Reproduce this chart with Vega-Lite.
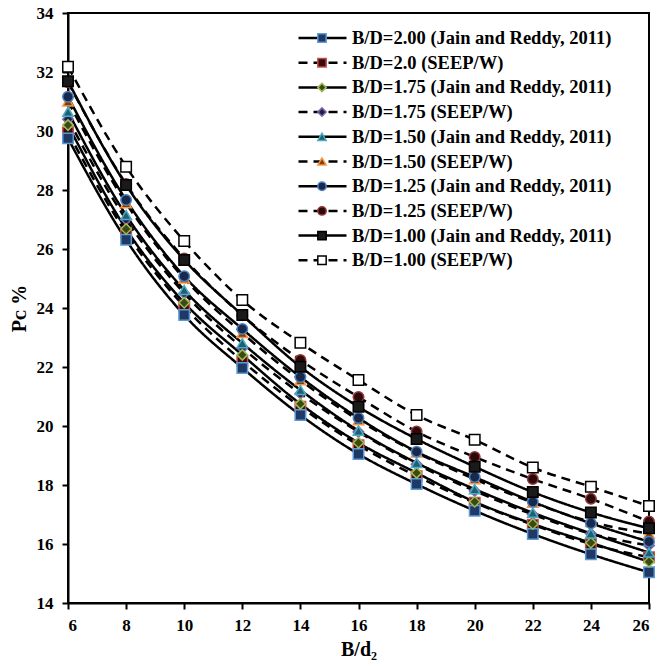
{
  "$schema": "https://vega.github.io/schema/vega-lite/v6.json",
  "width": 581,
  "height": 590,
  "autosize": {"type": "none"},
  "padding": {"left": 68, "top": 13, "right": 10, "bottom": 63},
  "background": "white",
  "config": {
    "font": "Liberation Serif",
    "view": {"stroke": "black", "strokeWidth": 2},
    "axis": {
      "grid": false,
      "domainColor": "black",
      "domainWidth": 2,
      "tickColor": "black",
      "tickWidth": 2,
      "tickSize": 6,
      "labelFont": "Liberation Serif",
      "labelFontWeight": "bold",
      "labelFontSize": 17,
      "labelColor": "black",
      "titleFont": "Liberation Serif",
      "titleFontWeight": "bold",
      "titleFontSize": 20,
      "titleColor": "black"
    }
  },
  "data": {
    "values": [
      {"series": "B/D=2.00 (Jain and Reddy, 2011)", "source": "Jain", "Bd2": 6, "Pc": 29.75},
      {"series": "B/D=2.00 (Jain and Reddy, 2011)", "source": "Jain", "Bd2": 8, "Pc": 26.31},
      {"series": "B/D=2.00 (Jain and Reddy, 2011)", "source": "Jain", "Bd2": 10, "Pc": 23.76},
      {"series": "B/D=2.00 (Jain and Reddy, 2011)", "source": "Jain", "Bd2": 12, "Pc": 21.97},
      {"series": "B/D=2.00 (Jain and Reddy, 2011)", "source": "Jain", "Bd2": 14, "Pc": 20.37},
      {"series": "B/D=2.00 (Jain and Reddy, 2011)", "source": "Jain", "Bd2": 16, "Pc": 19.05},
      {"series": "B/D=2.00 (Jain and Reddy, 2011)", "source": "Jain", "Bd2": 18, "Pc": 18.03},
      {"series": "B/D=2.00 (Jain and Reddy, 2011)", "source": "Jain", "Bd2": 20, "Pc": 17.13},
      {"series": "B/D=2.00 (Jain and Reddy, 2011)", "source": "Jain", "Bd2": 22, "Pc": 16.34},
      {"series": "B/D=2.00 (Jain and Reddy, 2011)", "source": "Jain", "Bd2": 24, "Pc": 15.65},
      {"series": "B/D=2.00 (Jain and Reddy, 2011)", "source": "Jain", "Bd2": 26, "Pc": 15.04},
      {"series": "B/D=2.0 (SEEP/W)", "source": "SEEP", "Bd2": 6, "Pc": 29.95},
      {"series": "B/D=2.0 (SEEP/W)", "source": "SEEP", "Bd2": 8, "Pc": 26.55},
      {"series": "B/D=2.0 (SEEP/W)", "source": "SEEP", "Bd2": 10, "Pc": 24.05},
      {"series": "B/D=2.0 (SEEP/W)", "source": "SEEP", "Bd2": 12, "Pc": 22.2},
      {"series": "B/D=2.0 (SEEP/W)", "source": "SEEP", "Bd2": 14, "Pc": 20.65},
      {"series": "B/D=2.0 (SEEP/W)", "source": "SEEP", "Bd2": 16, "Pc": 19.35},
      {"series": "B/D=2.0 (SEEP/W)", "source": "SEEP", "Bd2": 18, "Pc": 18.3},
      {"series": "B/D=2.0 (SEEP/W)", "source": "SEEP", "Bd2": 20, "Pc": 17.4},
      {"series": "B/D=2.0 (SEEP/W)", "source": "SEEP", "Bd2": 22, "Pc": 16.65},
      {"series": "B/D=2.0 (SEEP/W)", "source": "SEEP", "Bd2": 24, "Pc": 16.0},
      {"series": "B/D=2.0 (SEEP/W)", "source": "SEEP", "Bd2": 26, "Pc": 15.55},
      {"series": "B/D=1.75 (Jain and Reddy, 2011)", "source": "Jain", "Bd2": 6, "Pc": 30.2},
      {"series": "B/D=1.75 (Jain and Reddy, 2011)", "source": "Jain", "Bd2": 8, "Pc": 26.68},
      {"series": "B/D=1.75 (Jain and Reddy, 2011)", "source": "Jain", "Bd2": 10, "Pc": 24.18},
      {"series": "B/D=1.75 (Jain and Reddy, 2011)", "source": "Jain", "Bd2": 12, "Pc": 22.41},
      {"series": "B/D=1.75 (Jain and Reddy, 2011)", "source": "Jain", "Bd2": 14, "Pc": 20.75},
      {"series": "B/D=1.75 (Jain and Reddy, 2011)", "source": "Jain", "Bd2": 16, "Pc": 19.43},
      {"series": "B/D=1.75 (Jain and Reddy, 2011)", "source": "Jain", "Bd2": 18, "Pc": 18.41},
      {"series": "B/D=1.75 (Jain and Reddy, 2011)", "source": "Jain", "Bd2": 20, "Pc": 17.43},
      {"series": "B/D=1.75 (Jain and Reddy, 2011)", "source": "Jain", "Bd2": 22, "Pc": 16.68},
      {"series": "B/D=1.75 (Jain and Reddy, 2011)", "source": "Jain", "Bd2": 24, "Pc": 16.04},
      {"series": "B/D=1.75 (Jain and Reddy, 2011)", "source": "Jain", "Bd2": 26, "Pc": 15.4},
      {"series": "B/D=1.75 (SEEP/W)", "source": "SEEP", "Bd2": 6, "Pc": 30.4},
      {"series": "B/D=1.75 (SEEP/W)", "source": "SEEP", "Bd2": 8, "Pc": 27.0},
      {"series": "B/D=1.75 (SEEP/W)", "source": "SEEP", "Bd2": 10, "Pc": 24.5},
      {"series": "B/D=1.75 (SEEP/W)", "source": "SEEP", "Bd2": 12, "Pc": 22.65},
      {"series": "B/D=1.75 (SEEP/W)", "source": "SEEP", "Bd2": 14, "Pc": 21.1},
      {"series": "B/D=1.75 (SEEP/W)", "source": "SEEP", "Bd2": 16, "Pc": 19.8},
      {"series": "B/D=1.75 (SEEP/W)", "source": "SEEP", "Bd2": 18, "Pc": 18.7},
      {"series": "B/D=1.75 (SEEP/W)", "source": "SEEP", "Bd2": 20, "Pc": 17.8},
      {"series": "B/D=1.75 (SEEP/W)", "source": "SEEP", "Bd2": 22, "Pc": 17.0},
      {"series": "B/D=1.75 (SEEP/W)", "source": "SEEP", "Bd2": 24, "Pc": 16.35},
      {"series": "B/D=1.75 (SEEP/W)", "source": "SEEP", "Bd2": 26, "Pc": 15.95},
      {"series": "B/D=1.50 (Jain and Reddy, 2011)", "source": "Jain", "Bd2": 6, "Pc": 30.65},
      {"series": "B/D=1.50 (Jain and Reddy, 2011)", "source": "Jain", "Bd2": 8, "Pc": 27.15},
      {"series": "B/D=1.50 (Jain and Reddy, 2011)", "source": "Jain", "Bd2": 10, "Pc": 24.61},
      {"series": "B/D=1.50 (Jain and Reddy, 2011)", "source": "Jain", "Bd2": 12, "Pc": 22.81},
      {"series": "B/D=1.50 (Jain and Reddy, 2011)", "source": "Jain", "Bd2": 14, "Pc": 21.22},
      {"series": "B/D=1.50 (Jain and Reddy, 2011)", "source": "Jain", "Bd2": 16, "Pc": 19.84},
      {"series": "B/D=1.50 (Jain and Reddy, 2011)", "source": "Jain", "Bd2": 18, "Pc": 18.75},
      {"series": "B/D=1.50 (Jain and Reddy, 2011)", "source": "Jain", "Bd2": 20, "Pc": 17.86},
      {"series": "B/D=1.50 (Jain and Reddy, 2011)", "source": "Jain", "Bd2": 22, "Pc": 17.06},
      {"series": "B/D=1.50 (Jain and Reddy, 2011)", "source": "Jain", "Bd2": 24, "Pc": 16.36},
      {"series": "B/D=1.50 (Jain and Reddy, 2011)", "source": "Jain", "Bd2": 26, "Pc": 15.71},
      {"series": "B/D=1.50 (SEEP/W)", "source": "SEEP", "Bd2": 6, "Pc": 31.0},
      {"series": "B/D=1.50 (SEEP/W)", "source": "SEEP", "Bd2": 8, "Pc": 27.55},
      {"series": "B/D=1.50 (SEEP/W)", "source": "SEEP", "Bd2": 10, "Pc": 25.0},
      {"series": "B/D=1.50 (SEEP/W)", "source": "SEEP", "Bd2": 12, "Pc": 23.15},
      {"series": "B/D=1.50 (SEEP/W)", "source": "SEEP", "Bd2": 14, "Pc": 21.55},
      {"series": "B/D=1.50 (SEEP/W)", "source": "SEEP", "Bd2": 16, "Pc": 20.2},
      {"series": "B/D=1.50 (SEEP/W)", "source": "SEEP", "Bd2": 18, "Pc": 19.1},
      {"series": "B/D=1.50 (SEEP/W)", "source": "SEEP", "Bd2": 20, "Pc": 18.2},
      {"series": "B/D=1.50 (SEEP/W)", "source": "SEEP", "Bd2": 22, "Pc": 17.4},
      {"series": "B/D=1.50 (SEEP/W)", "source": "SEEP", "Bd2": 24, "Pc": 16.75},
      {"series": "B/D=1.50 (SEEP/W)", "source": "SEEP", "Bd2": 26, "Pc": 16.35},
      {"series": "B/D=1.25 (Jain and Reddy, 2011)", "source": "Jain", "Bd2": 6, "Pc": 31.16},
      {"series": "B/D=1.25 (Jain and Reddy, 2011)", "source": "Jain", "Bd2": 8, "Pc": 27.66},
      {"series": "B/D=1.25 (Jain and Reddy, 2011)", "source": "Jain", "Bd2": 10, "Pc": 25.08},
      {"series": "B/D=1.25 (Jain and Reddy, 2011)", "source": "Jain", "Bd2": 12, "Pc": 23.29},
      {"series": "B/D=1.25 (Jain and Reddy, 2011)", "source": "Jain", "Bd2": 14, "Pc": 21.66},
      {"series": "B/D=1.25 (Jain and Reddy, 2011)", "source": "Jain", "Bd2": 16, "Pc": 20.27},
      {"series": "B/D=1.25 (Jain and Reddy, 2011)", "source": "Jain", "Bd2": 18, "Pc": 19.13},
      {"series": "B/D=1.25 (Jain and Reddy, 2011)", "source": "Jain", "Bd2": 20, "Pc": 18.27},
      {"series": "B/D=1.25 (Jain and Reddy, 2011)", "source": "Jain", "Bd2": 22, "Pc": 17.43},
      {"series": "B/D=1.25 (Jain and Reddy, 2011)", "source": "Jain", "Bd2": 24, "Pc": 16.7},
      {"series": "B/D=1.25 (Jain and Reddy, 2011)", "source": "Jain", "Bd2": 26, "Pc": 16.08},
      {"series": "B/D=1.25 (SEEP/W)", "source": "SEEP", "Bd2": 6, "Pc": 31.65},
      {"series": "B/D=1.25 (SEEP/W)", "source": "SEEP", "Bd2": 8, "Pc": 28.2},
      {"series": "B/D=1.25 (SEEP/W)", "source": "SEEP", "Bd2": 10, "Pc": 25.68},
      {"series": "B/D=1.25 (SEEP/W)", "source": "SEEP", "Bd2": 12, "Pc": 23.75},
      {"series": "B/D=1.25 (SEEP/W)", "source": "SEEP", "Bd2": 14, "Pc": 22.24},
      {"series": "B/D=1.25 (SEEP/W)", "source": "SEEP", "Bd2": 16, "Pc": 20.98},
      {"series": "B/D=1.25 (SEEP/W)", "source": "SEEP", "Bd2": 18, "Pc": 19.81},
      {"series": "B/D=1.25 (SEEP/W)", "source": "SEEP", "Bd2": 20, "Pc": 18.95},
      {"series": "B/D=1.25 (SEEP/W)", "source": "SEEP", "Bd2": 22, "Pc": 18.2},
      {"series": "B/D=1.25 (SEEP/W)", "source": "SEEP", "Bd2": 24, "Pc": 17.53},
      {"series": "B/D=1.25 (SEEP/W)", "source": "SEEP", "Bd2": 26, "Pc": 16.76},
      {"series": "B/D=1.00 (Jain and Reddy, 2011)", "source": "Jain", "Bd2": 6, "Pc": 31.69},
      {"series": "B/D=1.00 (Jain and Reddy, 2011)", "source": "Jain", "Bd2": 8, "Pc": 28.17},
      {"series": "B/D=1.00 (Jain and Reddy, 2011)", "source": "Jain", "Bd2": 10, "Pc": 25.63},
      {"series": "B/D=1.00 (Jain and Reddy, 2011)", "source": "Jain", "Bd2": 12, "Pc": 23.76},
      {"series": "B/D=1.00 (Jain and Reddy, 2011)", "source": "Jain", "Bd2": 14, "Pc": 22.01},
      {"series": "B/D=1.00 (Jain and Reddy, 2011)", "source": "Jain", "Bd2": 16, "Pc": 20.65},
      {"series": "B/D=1.00 (Jain and Reddy, 2011)", "source": "Jain", "Bd2": 18, "Pc": 19.56},
      {"series": "B/D=1.00 (Jain and Reddy, 2011)", "source": "Jain", "Bd2": 20, "Pc": 18.62},
      {"series": "B/D=1.00 (Jain and Reddy, 2011)", "source": "Jain", "Bd2": 22, "Pc": 17.76},
      {"series": "B/D=1.00 (Jain and Reddy, 2011)", "source": "Jain", "Bd2": 24, "Pc": 17.07},
      {"series": "B/D=1.00 (Jain and Reddy, 2011)", "source": "Jain", "Bd2": 26, "Pc": 16.53},
      {"series": "B/D=1.00 (SEEP/W)", "source": "SEEP", "Bd2": 6, "Pc": 32.18},
      {"series": "B/D=1.00 (SEEP/W)", "source": "SEEP", "Bd2": 8, "Pc": 28.79},
      {"series": "B/D=1.00 (SEEP/W)", "source": "SEEP", "Bd2": 10, "Pc": 26.27},
      {"series": "B/D=1.00 (SEEP/W)", "source": "SEEP", "Bd2": 12, "Pc": 24.27},
      {"series": "B/D=1.00 (SEEP/W)", "source": "SEEP", "Bd2": 14, "Pc": 22.82},
      {"series": "B/D=1.00 (SEEP/W)", "source": "SEEP", "Bd2": 16, "Pc": 21.56},
      {"series": "B/D=1.00 (SEEP/W)", "source": "SEEP", "Bd2": 18, "Pc": 20.37},
      {"series": "B/D=1.00 (SEEP/W)", "source": "SEEP", "Bd2": 20, "Pc": 19.53},
      {"series": "B/D=1.00 (SEEP/W)", "source": "SEEP", "Bd2": 22, "Pc": 18.59},
      {"series": "B/D=1.00 (SEEP/W)", "source": "SEEP", "Bd2": 24, "Pc": 17.94},
      {"series": "B/D=1.00 (SEEP/W)", "source": "SEEP", "Bd2": 26, "Pc": 17.29}
    ]
  },
  "encoding": {
    "x": {
      "field": "Bd2", "type": "quantitative",
      "scale": {"domain": [6, 26], "nice": false, "zero": false},
      "axis": {"values": [6, 8, 10, 12, 14, 16, 18, 20, 22, 24, 26], "title": "B/d₂", "titlePadding": 6, "labelPadding": 8}
    },
    "y": {
      "field": "Pc", "type": "quantitative",
      "scale": {"domain": [14, 34], "nice": false, "zero": false},
      "axis": {"values": [14, 16, 18, 20, 22, 24, 26, 28, 30, 32, 34], "title": "Pᴄ %", "titlePadding": 7, "labelPadding": 9}
    }
  },
  "layer": [
    {
      "mark": {"type": "line", "color": "black", "strokeWidth": 2.5, "interpolate": "monotone"},
      "encoding": {
        "strokeDash": {
          "field": "series", "type": "nominal",
          "scale": {
            "domain": ["B/D=2.00 (Jain and Reddy, 2011)", "B/D=2.0 (SEEP/W)", "B/D=1.75 (Jain and Reddy, 2011)", "B/D=1.75 (SEEP/W)", "B/D=1.50 (Jain and Reddy, 2011)", "B/D=1.50 (SEEP/W)", "B/D=1.25 (Jain and Reddy, 2011)", "B/D=1.25 (SEEP/W)", "B/D=1.00 (Jain and Reddy, 2011)", "B/D=1.00 (SEEP/W)"],
            "range": [[1, 0], [9, 6], [1, 0], [9, 6], [1, 0], [9, 6], [1, 0], [9, 6], [1, 0], [9, 6]]
          },
          "legend": {
            "title": null, "orient": "none", "legendX": 229, "legendY": 15,
            "symbolType": "stroke", "symbolSize": 2304, "symbolStrokeWidth": 2.5, "symbolStrokeColor": "black",
            "clipHeight": 20, "rowPadding": 4.7, "labelOffset": 4,
            "labelFont": "Liberation Serif", "labelFontWeight": "bold", "labelFontSize": 18.5, "labelColor": "black", "labelLimit": 400
          }
        }
      }
    },
    {
      "mark": {"type": "point", "filled": true, "opacity": 1, "size": 110, "strokeWidth": 1.5},
      "encoding": {
        "shape": {
          "field": "series", "type": "nominal", "sort": null,
          "scale": {"range": ["square", "square", "diamond", "diamond", "triangle-up", "triangle-up", "circle", "circle", "square", "square"]},
          "legend": {
            "title": null, "orient": "none", "legendX": 246, "legendY": 15,
            "symbolSize": 70, "clipHeight": 20, "rowPadding": 4.7,
            "labelOpacity": 0, "labelFontSize": 16, "labelLimit": 1
          }
        },
        "fill": {
          "field": "series", "type": "nominal", "sort": null,
          "scale": {"range": ["#1F3864", "#3B0B0B", "#3A4A12", "#1F1F4F", "#1F5F6F", "#7F3F00", "#17294D", "#2A0A0A", "#1A1A1A", "#FFFFFF"]}
        },
        "stroke": {
          "field": "series", "type": "nominal", "sort": null,
          "scale": {"range": ["#5B9BD5", "#C0504D", "#9BBB59", "#8064A2", "#4BACC6", "#F79646", "#4F81BD", "#943634", "#000000", "#000000"]}
        },
        "order": {"field": "source", "sort": "descending"}
      }
    }
  ]
}
